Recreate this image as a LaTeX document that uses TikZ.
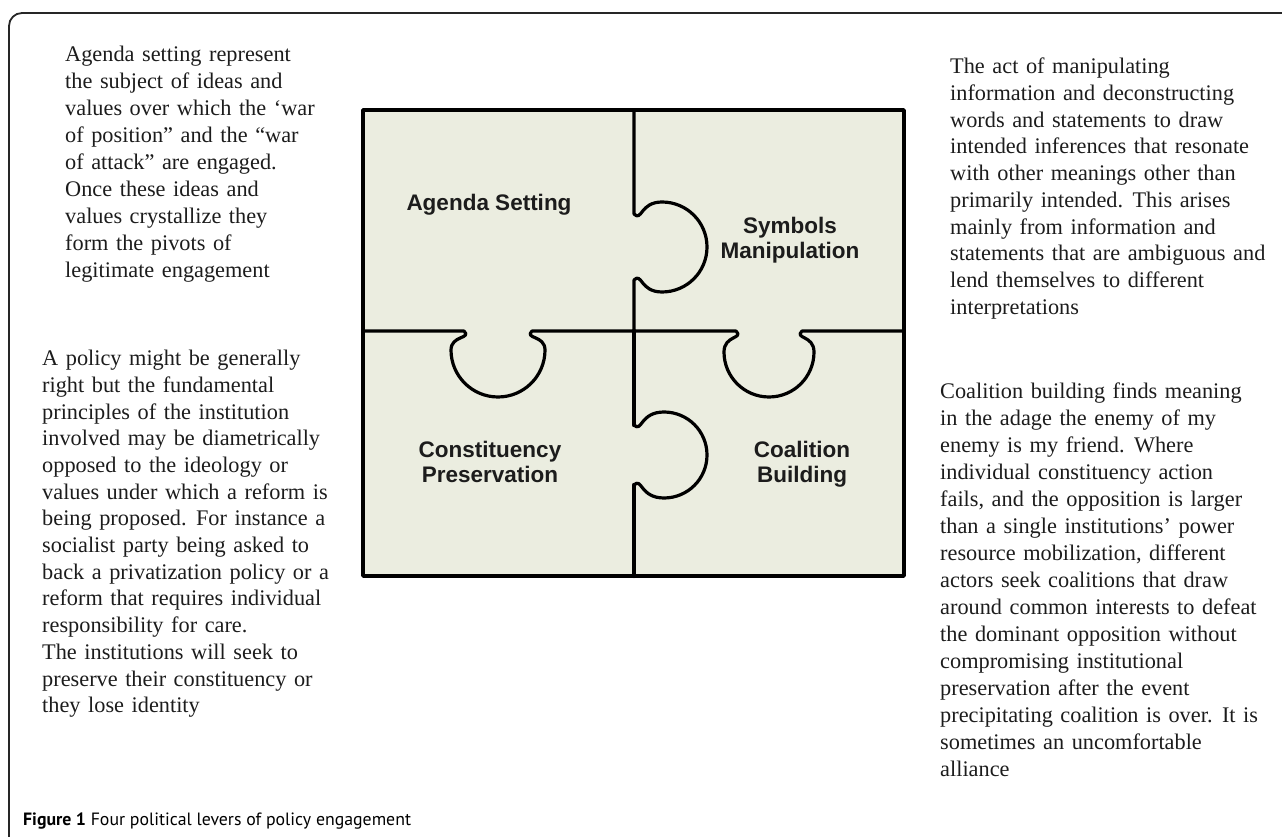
\documentclass[tikz,border=0pt]{standalone}
\usepackage{fontspec}
\setmainfont{Liberation Serif}
\newfontfamily\labelfont{Liberation Sans}
\newfontfamily\capfont{PT Sans}
\definecolor{piecefill}{RGB}{235,237,224}
\definecolor{inkgray}{RGB}{28,28,28}
\newcommand{\widespacing}{\spaceskip=0.34em plus 0.1em\relax}
\begin{document}
\begin{tikzpicture}[x=1pt,y=1pt,
  pieceline/.style={line width=3.2pt, black, line join=round, line cap=round},
  piecelabel/.style={font=\labelfont\bfseries\fontsize{22.5}{25}\selectfont, align=center, text=inkgray, inner sep=0pt},
  bodytext/.style={font=\fontsize{22.3}{26.7}\selectfont\widespacing, align=left, anchor=north west, inner sep=0pt, text=inkgray},
  frameline/.style={line width=1.8pt, black!85}
]
\useasboundingbox (0,0) rectangle (1282,836);
\clip (0,0) rectangle (1282,836);

% page frame with the rounded corner at the top left
\draw[frameline, rounded corners=13pt] (9,-40) -- (9,823) -- (1320,823);

% four-piece jigsaw
\fill[piecefill] (363,260) rectangle (904,726);
% vertical seam, upper knob
\draw[pieceline] (634,726) -- (634,622)
  .. controls (642,614) and (640,634) .. (662,634)
  arc[start angle=90, end angle=-90, radius=45]
  .. controls (640,544) and (642,564) .. (634,556) -- (634,505);
% vertical seam, lower knob (drawn a little heavier)
\draw[pieceline] (634,411)
  .. controls (642,403) and (640,424) .. (664,424)
  arc[start angle=90, end angle=-90, radius=43]
  .. controls (640,338) and (642,359) .. (634,351);
\draw[pieceline, line width=4.4pt] (634,505) -- (634,411) (634,351) -- (634,260);
% horizontal seam with two knobs
\draw[pieceline] (363,505) -- (464,505)
  .. controls (472,497) and (451,501) .. (451,486)
  arc[start angle=180, end angle=360, radius=47]
  .. controls (545,501) and (524,497) .. (532,505) -- (736,505)
  .. controls (744,497) and (724,501) .. (724,484)
  arc[start angle=180, end angle=360, radius=45]
  .. controls (814,501) and (794,497) .. (802,505) -- (904,505);
% outer border
\draw[pieceline, line width=3.4pt] (363,260) rectangle (904,726);

\node[piecelabel] (agenda) at (489,631) {Agenda Setting};
\node[piecelabel] (symbols) at (790,596) {Symbols\\Manipulation};
\node[piecelabel] (constituency) at (490,374) {Constituency\\Preservation};
\node[piecelabel] (coalition) at (802,372) {Coalition\\Building};

% explanatory texts
\node[bodytext, font=\fontsize{22.3}{27}\selectfont\widespacing] (agendatext) at (65,790) {Agenda setting represent\\
the subject of ideas and\\
values over which the ‘war\\
of position” and the “war\\
of attack” are engaged.\\
Once these ideas and\\
values crystallize they\\
form the pivots of\\
legitimate engagement};

\node[bodytext] (symbolstext) at (950,778) {The act of manipulating\\
information and deconstructing\\
words and statements to draw\\
intended inferences that resonate\\
with other meanings other than\\
primarily intended. This arises\\
mainly from information and\\
statements that are ambiguous and\\
lend themselves to different\\
interpretations};

\node[bodytext] (constituencytext) at (42,486) {A policy might be generally\\
right but the fundamental\\
principles of the institution\\
involved may be diametrically\\
opposed to the ideology or\\
values under which a reform is\\
being proposed. For instance a\\
socialist party being asked to\\
back a privatization policy or a\\
reform that requires individual\\
responsibility for care.\\
The institutions will seek to\\
preserve their constituency or\\
they lose identity};

\node[bodytext, font=\fontsize{22.3}{27}\selectfont\widespacing] (coalitiontext) at (940,453) {Coalition building finds meaning\\
in the adage the enemy of my\\
enemy is my friend. Where\\
individual constituency action\\
fails, and the opposition is larger\\
than a single institutions’ power\\
resource mobilization, different\\
actors seek coalitions that draw\\
around common interests to defeat\\
the dominant opposition without\\
compromising institutional\\
preservation after the event\\
precipitating coalition is over. It is\\
sometimes an uncomfortable\\
alliance};

% caption
\node[anchor=base west, inner sep=0pt, font=\capfont\fontsize{17.8}{20}\selectfont, text=black] (caption) at (23,11)
  {\textbf{Figure 1} Four political levers of policy engagement};
\end{tikzpicture}
\end{document}
